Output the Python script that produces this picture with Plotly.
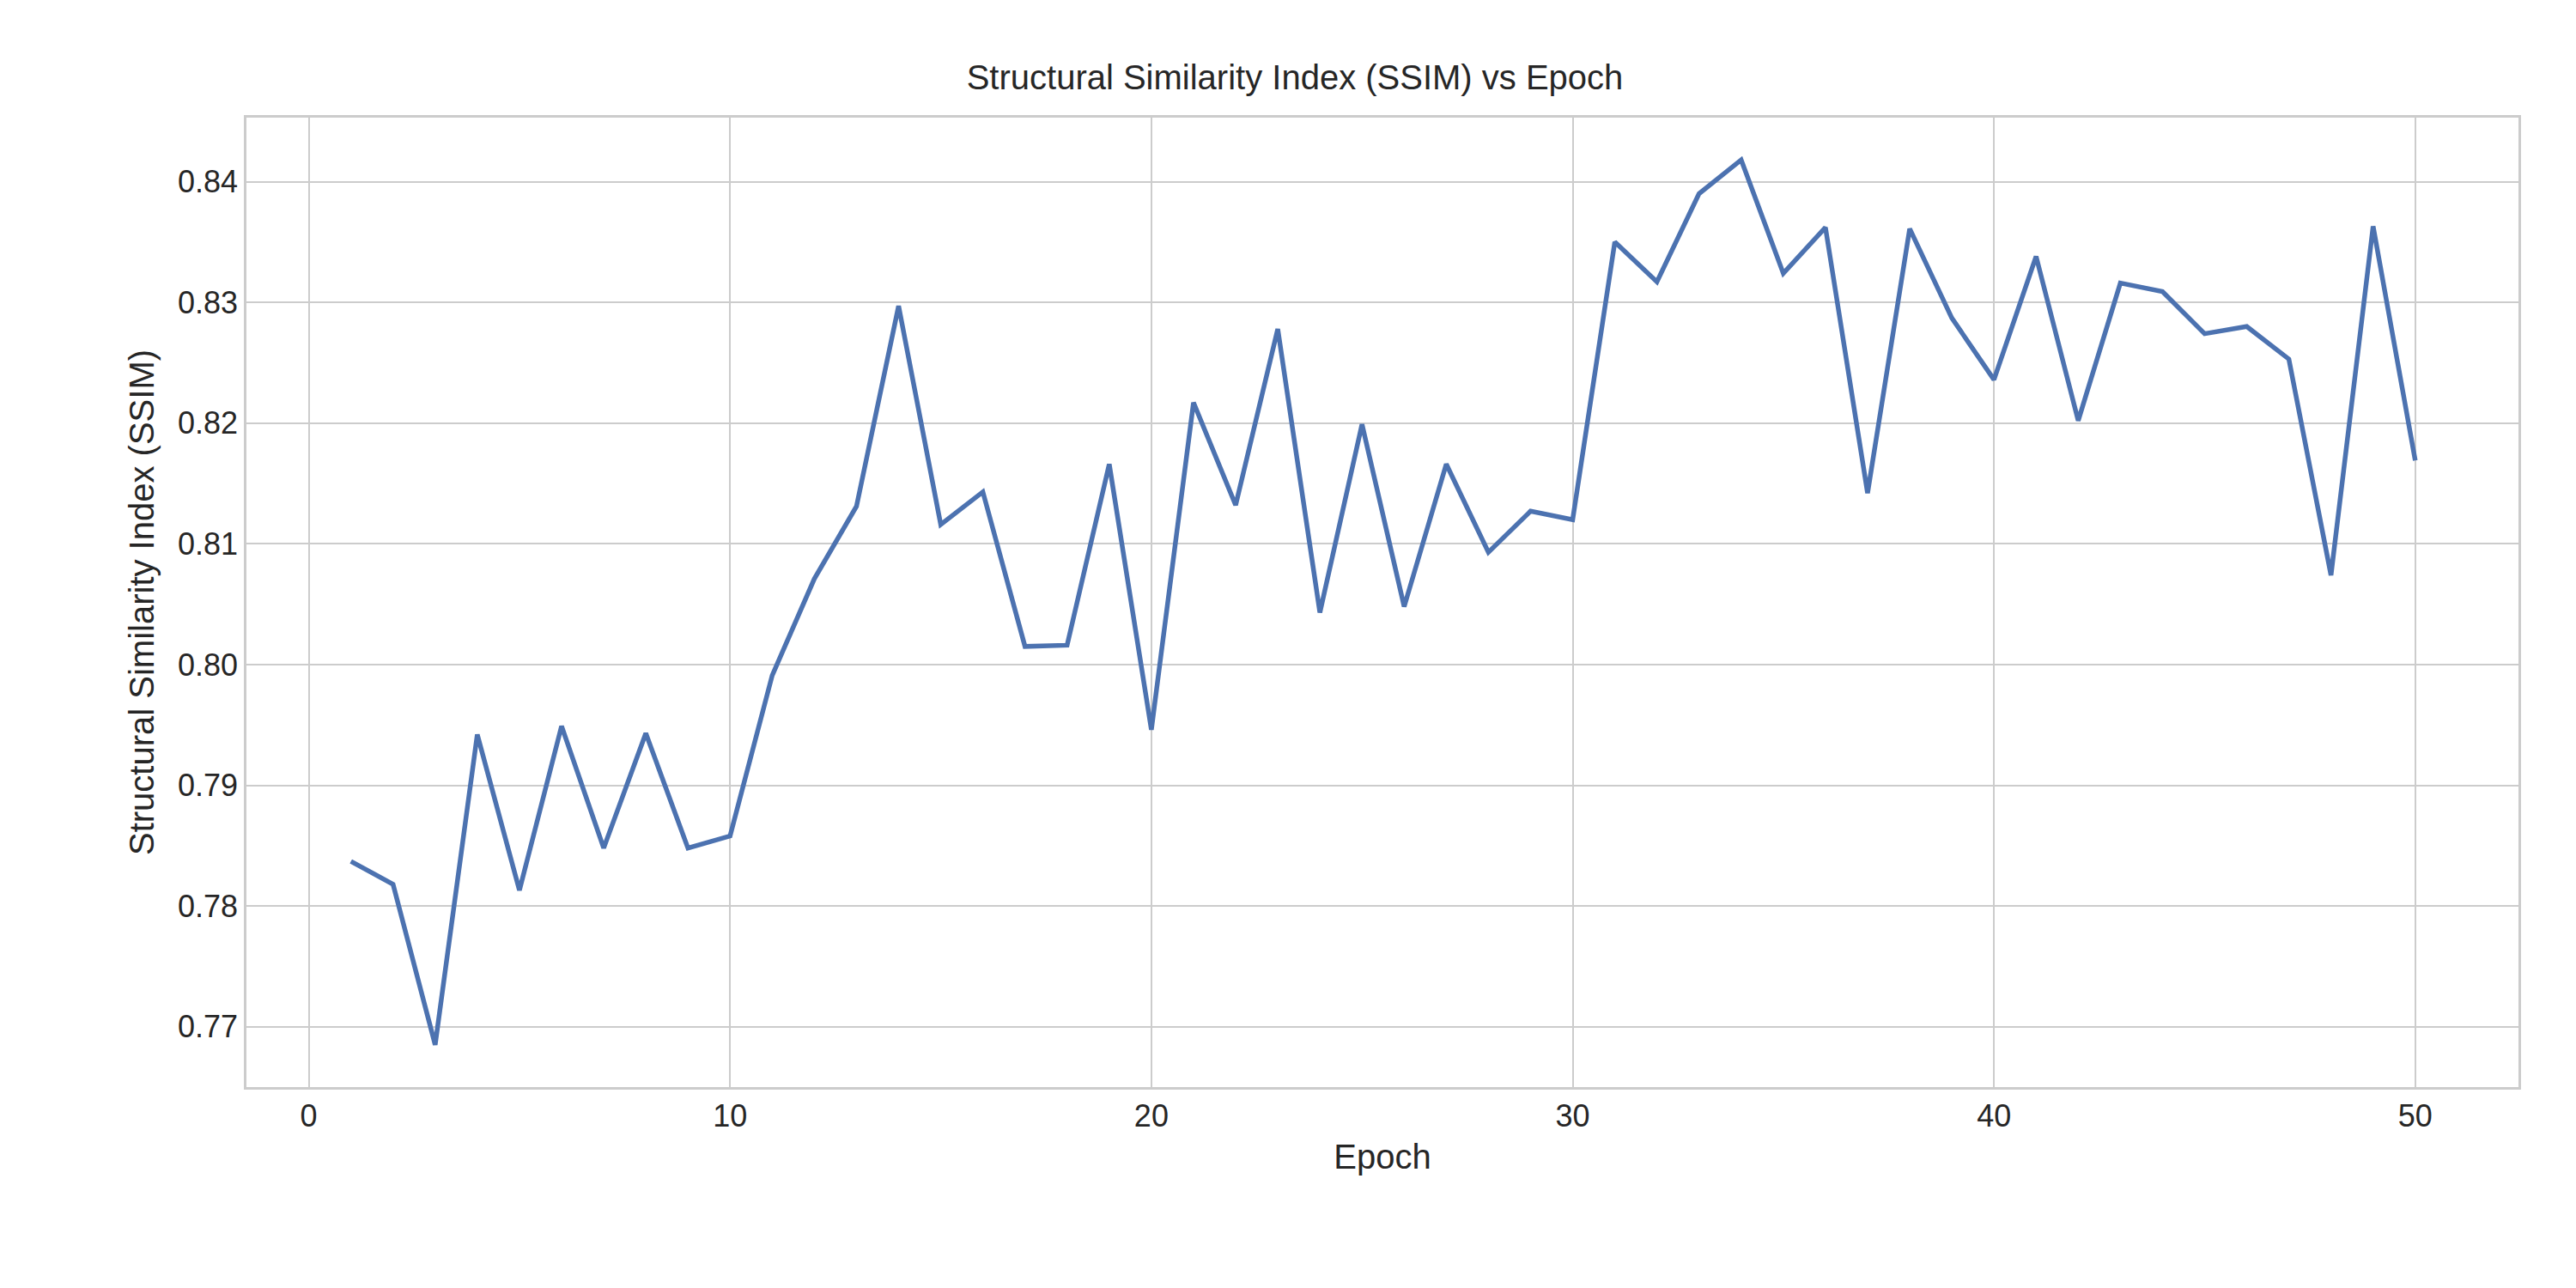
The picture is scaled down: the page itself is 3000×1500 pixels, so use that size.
import plotly.graph_objects as go

# SSIM per epoch
epochs = list(range(1, 51))
ssim = [0.7837, 0.7818, 0.7685, 0.7942, 0.7813, 0.7949, 0.7848, 0.7943, 0.7848, 0.7858,
        0.7991, 0.8071, 0.8131, 0.8297, 0.8116, 0.8143, 0.8015, 0.8016, 0.8166, 0.7946,
        0.8217, 0.8132, 0.8278, 0.8043, 0.8199, 0.8048, 0.8166, 0.8093, 0.8127, 0.8120,
        0.8350, 0.8317, 0.8390, 0.8418, 0.8324, 0.8362, 0.8142, 0.8361, 0.8287, 0.8236,
        0.8338, 0.8202, 0.8316, 0.8309, 0.8274, 0.8280, 0.8253, 0.8074, 0.8363, 0.8169]

fig = go.Figure(go.Scatter(x=epochs, y=ssim, mode="lines",
                           line=dict(color="#4c72b0", width=5.5)))

axis_style = dict(showgrid=True, gridcolor="#cccccc", gridwidth=2,
                  showline=True, linecolor="#cccccc", linewidth=2.5, mirror=True,
                  zeroline=False, ticks="outside", ticklen=0,
                  tickfont=dict(size=36, color="#262626"))

fig.update_layout(
    width=3000, height=1500,
    paper_bgcolor="white", plot_bgcolor="white",
    font=dict(family="Liberation Sans, Arial", color="#262626"),
    title=dict(text="Structural Similarity Index (SSIM) vs Epoch", x=0.5, xanchor="center",
               y=0.955, font=dict(size=40)),
    margin=dict(l=279, r=75, t=129, b=242),
    showlegend=False,
)
fig.update_xaxes(range=[-1.48, 52.45], tickvals=[0, 10, 20, 30, 40, 50],
                 title=dict(text="Epoch", font=dict(size=40)), **axis_style)
fig.update_yaxes(range=[0.765, 0.8453],
                 tickvals=[0.77, 0.78, 0.79, 0.80, 0.81, 0.82, 0.83, 0.84],
                 ticktext=["0.77", "0.78", "0.79", "0.80", "0.81", "0.82", "0.83", "0.84"],
                 title=dict(text="Structural Similarity Index (SSIM)", font=dict(size=40)),
                 **axis_style)

fig.write_html("out.html")
